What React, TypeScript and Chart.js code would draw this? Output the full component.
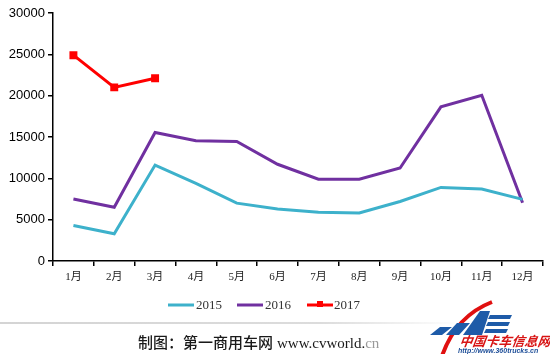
import React, { useEffect, useRef } from "react";
import { Chart, registerables } from "chart.js";

Chart.register(...registerables);

const months = ["1月", "2月", "3月", "4月", "5月", "6月", "7月", "8月", "9月", "10月", "11月", "12月"];
const series2015 = [4300, 3300, 11600, 9400, 7000, 6300, 5900, 5800, 7200, 8900, 8700, 7450];
const series2016 = [7500, 6500, 15550, 14550, 14450, 11700, 9900, 9900, 11250, 18650, 20050, 7050];
const series2017 = [24900, 21000, 22100, null, null, null, null, null, null, null, null, null];
const seriesNames = ["2015", "2016", "2017"];
const seriesColors = ["#3DB1CB", "#7030A0", "#FF0000"];

const legendPlugin = {
  id: "customLegend",
  afterDraw(chart: any) {
    const ctx = chart.ctx;
    const y = 305;
    const items = [
      { x: 168, tx: 196 },
      { x: 237, tx: 265 },
      { x: 307, tx: 334 },
    ];
    ctx.save();
    items.forEach((it, i) => {
      ctx.strokeStyle = seriesColors[i];
      ctx.lineWidth = 3;
      ctx.beginPath();
      ctx.moveTo(it.x, y);
      ctx.lineTo(it.x + 26, y);
      ctx.stroke();
      if (i === 2) {
        ctx.fillStyle = seriesColors[i];
        ctx.fillRect(it.x + 10, y - 4, 6, 6);
      }
      ctx.fillStyle = "#333";
      ctx.font = "13px 'Liberation Serif', serif";
      ctx.textBaseline = "middle";
      ctx.textAlign = "left";
      ctx.fillText(seriesNames[i], it.tx, y + 1);
    });
    ctx.restore();
  },
};

export default function App() {
  const ref = useRef<HTMLCanvasElement | null>(null);
  useEffect(() => {
    if (!ref.current) return;
    const chart = new Chart(ref.current, {
      type: "line",
      data: {
        labels: months,
        datasets: [
          { label: seriesNames[0], data: series2015, borderColor: seriesColors[0], backgroundColor: seriesColors[0], borderWidth: 3, pointRadius: 0, tension: 0 },
          { label: seriesNames[1], data: series2016, borderColor: seriesColors[1], backgroundColor: seriesColors[1], borderWidth: 3, pointRadius: 0, tension: 0 },
          { label: seriesNames[2], data: series2017, borderColor: seriesColors[2], backgroundColor: seriesColors[2], borderWidth: 3, pointRadius: 3.5, pointStyle: "rect", tension: 0, spanGaps: false },
        ],
      },
      options: {
        animation: false,
        responsive: false,
        layout: { padding: { top: 13, right: 5, bottom: 63, left: 0 } },
        plugins: { legend: { display: false }, tooltip: { enabled: false } },
        scales: {
          x: {
            offset: true,
            grid: { display: true, drawOnChartArea: false, drawTicks: true, tickLength: 5, color: "#000", offset: true, lineWidth: 1.5 },
            border: { display: true, color: "#000", width: 1.5 },
            ticks: { color: "#222", font: { family: "'Liberation Serif', 'Noto Sans CJK SC', serif", size: 11 }, padding: 5, maxRotation: 0, autoSkip: false },
            afterFit: (s: any) => { s.height = 30; },
          },
          y: {
            min: 0,
            max: 30000,
            ticks: { stepSize: 5000, color: "#000", font: { family: "'Liberation Sans', Arial, sans-serif", size: 13 }, padding: 3, callback: (v: any) => String(v) },
            grid: { display: true, drawOnChartArea: false, drawTicks: true, tickLength: 5, color: "#000", lineWidth: 1.5 },
            border: { display: true, color: "#000", width: 1.5 },
            afterFit: (s: any) => { s.width = 53; },
          },
        },
      },
      plugins: [legendPlugin],
    });
    return () => chart.destroy();
  }, []);

  return (
    <div style={{ position: "fixed", left: 0, top: 0, width: 550, height: 354, background: "#fff", overflow: "hidden" }}>
      <canvas ref={ref} width={550} height={354} style={{ position: "absolute", left: 0, top: 0 }} />
      <div style={{ position: "absolute", left: 0, top: 322, width: 460, height: 2, background: "linear-gradient(to right, #d4d4d4 0%, #dcdcdc 70%, rgba(230,230,230,0) 100%)" }} />
      <div style={{ position: "absolute", left: 138, top: 332, whiteSpace: "nowrap", fontSize: 15, lineHeight: "20px", color: "#1a1a1a" }}>
        <span style={{ fontFamily: "'Noto Sans CJK SC', sans-serif", fontWeight: 500 }}>制图：第一商用车网</span>
        <span style={{ fontFamily: "'Liberation Serif', serif", marginLeft: 4 }}>www.cvworld.</span>
        <span style={{ fontFamily: "'Liberation Serif', serif", color: "#999" }}>cn</span>
      </div>
      <svg width={150} height={64} style={{ position: "absolute", left: 400, top: 290 }}>
        <path d="M42 66 Q56 26 92 12" stroke="#E01010" strokeWidth={4} fill="none" />
        <polygon points="30,45 40,37 52,37 42,45" fill="#1E5BA8" />
        <polygon points="46,45 57,33 70,33 59,45" fill="#1E5BA8" />
        <polygon points="63,45 80,21 90,21 82,45" fill="#1E5BA8" />
        <polygon points="90,25 112,25 110,29 88,29" fill="#1E5BA8" />
        <polygon points="88,32 110,32 108,36 86,36" fill="#1E5BA8" />
        <polygon points="86,39 108,39 106,43 84,43" fill="#1E5BA8" />
        <text x={60} y={56} fill="#D81414" fontFamily="'Noto Sans CJK SC', sans-serif" fontWeight={700} fontSize={13} fontStyle="italic" transform="skewX(-8) translate(7,0)">中国卡车信息网</text>
        <text x={58} y={63} fill="#1E4E98" fontFamily="'Liberation Sans', sans-serif" fontWeight={700} fontSize={7} fontStyle="italic">http://www.360trucks.cn</text>
      </svg>
    </div>
  );
}
